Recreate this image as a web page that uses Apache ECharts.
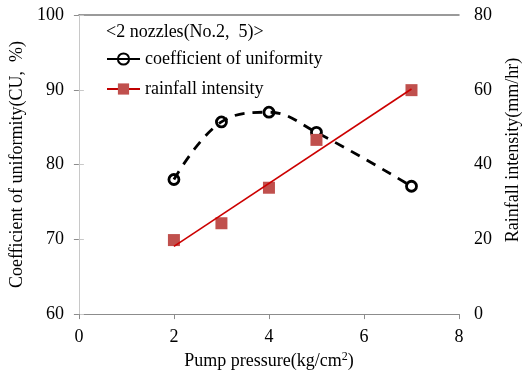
<!DOCTYPE html>
<html>
<head>
<meta charset="utf-8">
<script src="https://cdn.jsdelivr.net/npm/echarts@6/dist/echarts.min.js"></script>
<style>
  html, body { margin: 0; padding: 0; background: #fff; }
  #chart { width: 527px; height: 375px; }
</style>
</head>
<body>
<div id="chart"></div>
<script>
// pump pressure (kg/cm2)
var pressure = [2, 3, 4, 5, 7];
// coefficient of uniformity (%)
var cuValues = [78.0, 85.7, 87.0, 84.3, 77.1];
// rainfall intensity (mm/hr)
var rainValues = [19.8, 24.3, 33.8, 46.6, 59.9];
// linear trend of rainfall, end points
var trendX = [2, 7];
var trendY = [18.1, 60.2];

var xTicks = [0, 2, 4, 6, 8];
var leftTicks = [60, 70, 80, 90, 100];
var rightTicks = [0, 20, 40, 60, 80];

function pairs(xs, ys) {
    return xs.map(function (x, i) { return [x, ys[i]]; });
}

var FONT = '"Liberation Serif", "Times New Roman", serif';
var FS = 18;
var txt = { fontFamily: FONT, fontSize: FS, color: '#000' };

var chart = echarts.init(document.getElementById('chart'));

chart.setOption({
    animation: false,
    backgroundColor: '#fff',
    textStyle: { fontFamily: FONT },
    grid: { left: 76, right: 68, top: 15, bottom: 60 },
    title: {
        text: '<2 nozzles(No.2,  5)>',
        left: 106, top: 23, padding: 0,
        textStyle: { fontFamily: FONT, fontSize: FS, fontWeight: 'normal', color: '#000' }
    },
    legend: {
        orient: 'vertical',
        left: 106, top: 50, padding: 0,
        itemWidth: 33, itemHeight: 14, itemGap: 12,
        textStyle: txt,
        data: [
            { name: 'coefficient of uniformity', lineStyle: { type: 'solid' } },
            { name: 'rainfall intensity', lineStyle: { opacity: 1, width: 2, color: '#c00000' } }
        ]
    },
    xAxis: [{
        type: 'value',
        min: xTicks[0], max: xTicks[xTicks.length - 1], interval: 2,
        name: 'Pump pressure(kg/cm{sup|2})',
        nameLocation: 'middle', nameGap: 33,
        nameTextStyle: Object.assign({
            rich: { sup: { fontFamily: FONT, fontSize: 12, color: '#000', verticalAlign: 'top', padding: [0, 0, 8, 0] } }
        }, txt),
        axisLine: { lineStyle: { color: '#8c8c8c', width: 1 } },
        axisTick: { show: true, length: 5, lineStyle: { color: '#8c8c8c' } },
        axisLabel: Object.assign({ margin: 14 }, txt),
        splitLine: { show: false }
    }, {
        type: 'value', position: 'top',
        min: 0, max: 8,
        axisLine: { show: true, lineStyle: { color: '#7a7a7a', width: 1.5 } },
        axisTick: { show: false }, axisLabel: { show: false }, splitLine: { show: false }
    }],
    yAxis: [{
        type: 'value',
        min: leftTicks[0], max: leftTicks[leftTicks.length - 1], interval: 10,
        name: 'Coefficient of uniformity(CU,  %)',
        nameLocation: 'middle', nameGap: 45,
        nameTextStyle: txt,
        axisLine: { show: true, lineStyle: { color: '#8c8c8c' } },
        axisTick: { show: true, length: 5, lineStyle: { color: '#8c8c8c' } },
        axisLabel: Object.assign({ margin: 15 }, txt),
        splitLine: { show: false }
    }, {
        type: 'value', position: 'right',
        min: rightTicks[0], max: rightTicks[rightTicks.length - 1], interval: 20,
        axisLine: { show: true, lineStyle: { color: '#c8c8c8' } },
        axisTick: { show: true, length: 5, lineStyle: { color: '#c8c8c8' } },
        axisLabel: Object.assign({ margin: 15 }, txt),
        splitLine: { show: false }
    }],
    graphic: [{
        type: 'text',
        x: 513, y: 150, rotation: Math.PI / 2,
        style: {
            text: 'Rainfall intensity(mm/hr)',
            font: FS + 'px ' + FONT, fill: '#000',
            align: 'center', verticalAlign: 'middle'
        }
    }],
    series: [{
        name: 'coefficient of uniformity',
        type: 'line',
        xAxisIndex: 0, yAxisIndex: 0,
        smooth: 0.4,
        data: pairs(pressure, cuValues),
        symbol: 'circle', symbolSize: 10,
        lineStyle: { color: '#000', width: 2.8, type: [10, 8] },
        itemStyle: { color: 'rgba(255,255,255,0)', borderColor: '#000', borderWidth: 2.8 },
        z: 2
    }, {
        name: 'rainfall intensity',
        type: 'line',
        xAxisIndex: 0, yAxisIndex: 1,
        data: pairs(pressure, rainValues),
        symbol: 'rect', symbolSize: 12,
        lineStyle: { opacity: 0, width: 0 },
        itemStyle: { color: '#c0504d' },
        z: 3
    }, {
        name: 'trend',
        type: 'line',
        xAxisIndex: 0, yAxisIndex: 1,
        data: pairs(trendX, trendY),
        symbol: 'none',
        lineStyle: { color: '#cc0000', width: 1.6 },
        silent: true,
        z: 4
    }]
});
</script>
</body>
</html>
